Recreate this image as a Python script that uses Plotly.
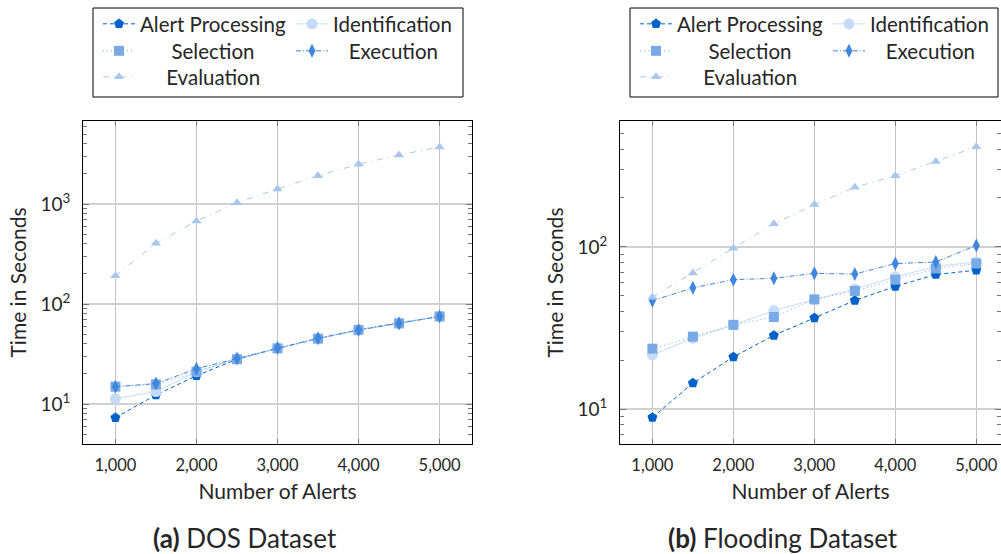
import plotly.graph_objects as go

alerts = [1000, 1500, 2000, 2500, 3000, 3500, 4000, 4500, 5000]
series_names = ["Alert Processing", "Identification", "Selection", "Execution", "Evaluation"]

# DOS dataset (seconds)
dos_alert_processing = [7.3, 12.3, 19.2, 28, 36, 45, 55, 65, 74.5]
dos_identification = [11.3, 13.3, 21, 28.5, 36, 45, 55, 64, 75]
dos_selection = [14.9, 15.7, 21, 28, 36, 45, 55, 64, 75]
dos_execution = [14.9, 16, 22.5, 28.5, 36.5, 45.5, 55, 64, 75]
dos_evaluation = [192, 404, 676, 1030, 1413, 1919, 2495, 3090, 3715]

# Flooding dataset (seconds)
fl_alert_processing = [8.9, 14.5, 21, 28.5, 36.5, 46.8, 57.1, 67.5, 71.8]
fl_identification = [21.6, 27.4, 33, 40.5, 47.3, 55, 65.3, 75.8, 80.8]
fl_selection = [23.6, 28, 33.1, 37, 47.5, 53.5, 62.8, 73.5, 79]
fl_execution = [46.6, 55.9, 62.8, 64, 68.7, 68, 78.9, 80.7, 102]
fl_evaluation = [49, 69, 98, 139, 182, 233, 274, 336, 414]

x_tickvals = [1000, 2000, 3000, 4000, 5000]
y_tickvals = [10, 100, 1000]
y_ticktext = ["10<sup>1</sup>", "10<sup>2</sup>", "10<sup>3</sup>"]

colors = ["#0062c9", "#c6dcf5", "#7aaae6", "#3f86dc", "#a9c7ee"]
symbols = ["pentagon", "circle", "square", "diamond-tall", "triangle-up"]
sizes = [10.5, 11, 10, 10, 9]
dashes = ["4px,3px", "solid", "1px,3px", "5px,2px,1px,2px", "6px,5px,1px,5px"]

FONT = "Lato"
TXT = "#262626"
W, H = 1001, 554
NB = "\u00a0"

# legend layout (pixel positions of each entry's text start and row centre) -- left legend box
leg_text_x = [140, 333, 140, 333, 140]
leg_row_y = [24, 24, 51, 51, 77]
leg_pad = [0, 0, 6, 3, 5]
ITEMW = 32

fig = go.Figure()

datasets = [
    ([dos_alert_processing, dos_identification, dos_selection, dos_execution, dos_evaluation], "x", "y", 0, 0),
    ([fl_alert_processing, fl_identification, fl_selection, fl_execution, fl_evaluation], "x2", "y2", 5, 537),
]
legends = {}
for ys, xa, ya, off, dx in datasets:
    for i, name in enumerate(series_names):
        k = off + i + 1
        lid = "legend" if k == 1 else f"legend{k}"
        fig.add_trace(go.Scatter(
            x=alerts, y=ys[i], name=NB * leg_pad[i] + name, mode="lines+markers",
            xaxis=xa, yaxis=ya, legend=lid,
            line=dict(color=colors[i], width=1, dash=dashes[i]),
            marker=dict(symbol=symbols[i], size=sizes[i], color=colors[i], line=dict(width=0)),
        ))
        legends[lid] = dict(
            x=(leg_text_x[i] + dx - ITEMW - 10) / W, xanchor="left",
            y=1 - leg_row_y[i] / H, yanchor="middle",
            borderwidth=0, bgcolor="rgba(0,0,0,0)", itemwidth=ITEMW,
            font=dict(family=FONT, size=20.5, color=TXT),
        )


def minor_vals(lo, hi):
    v = []
    d = 1
    while d <= 10000:
        for k in range(2, 10):
            if lo <= k * d <= hi:
                v.append(k * d)
        d *= 10
    return v

common_x = dict(
    tickvals=x_tickvals, tickformat=",", showgrid=True, gridcolor="#c4c4c4", gridwidth=1,
    ticks="inside", ticklen=5, tickcolor="#777", showline=True, linecolor="black", linewidth=1,
    mirror="ticks", zeroline=False, tickfont=dict(family=FONT, size=16.5, color=TXT),
    ticklabelstandoff=6,
    title=dict(text="Number of Alerts", font=dict(family=FONT, size=21, color=TXT), standoff=10),
)
common_y = dict(
    type="log", tickvals=y_tickvals, ticktext=y_ticktext, showgrid=True, gridcolor="#d0d0d0", gridwidth=1.5,
    ticks="inside", ticklen=6, tickcolor="#777", showline=True, linecolor="black", linewidth=1,
    mirror="ticks", zeroline=False, tickfont=dict(family=FONT, size=19, color=TXT),
    ticklabelstandoff=8,
    title=dict(text="Time in Seconds", font=dict(family=FONT, size=21, color=TXT), standoff=8),
)

fig.update_layout(
    width=W, height=H, margin=dict(l=0, r=0, t=0, b=0),
    plot_bgcolor="white", paper_bgcolor="white",
    xaxis=dict(common_x, domain=[83 / W, 472 / W], range=[600, 5400], anchor="y"),
    yaxis=dict(common_y, domain=[1 - 444 / H, 1 - 121 / H], range=[0.6, 3.83], anchor="x",
               minor=dict(tickvals=minor_vals(4, 6800), ticks="inside", ticklen=4, tickcolor="#777", showgrid=False)),
    xaxis2=dict(common_x, domain=[620 / W, 1.0], range=[600, 5305], anchor="y2"),
    yaxis2=dict(common_y, domain=[1 - 444 / H, 1 - 121 / H], range=[0.786, 2.775], anchor="x2",
                minor=dict(tickvals=minor_vals(6, 600), ticks="inside", ticklen=4, tickcolor="#777", showgrid=False)),
    showlegend=True,
    shapes=[
        dict(type="rect", xref="paper", yref="paper", x0=93 / W, x1=463 / W, y0=1 - 97 / H, y1=1 - 8 / H,
             line=dict(color="black", width=1), layer="above"),
        dict(type="rect", xref="paper", yref="paper", x0=630 / W, x1=998 / W, y0=1 - 97 / H, y1=1 - 8 / H,
             line=dict(color="black", width=1), layer="above"),
    ],
    annotations=[
        dict(text="<b>(a)</b> DOS Dataset", x=245 / W, y=1 - 538 / H, xref="paper", yref="paper",
             showarrow=False, font=dict(family=FONT, size=26, color=TXT), xanchor="center", yanchor="middle"),
        dict(text="<b>(b)</b> Flooding Dataset", x=783 / W, y=1 - 538 / H, xref="paper", yref="paper",
             showarrow=False, font=dict(family=FONT, size=26, color=TXT), xanchor="center", yanchor="middle"),
    ],
)
fig.update_layout(**legends)

fig.write_html("out.html")
